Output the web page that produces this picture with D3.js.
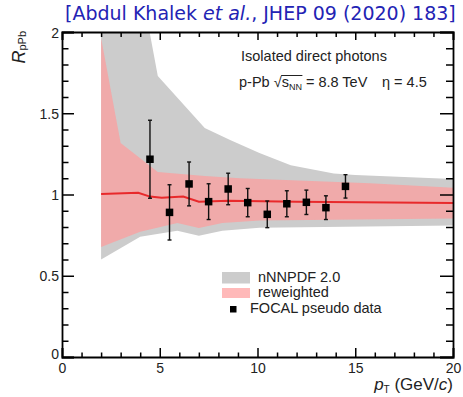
<!DOCTYPE html>
<html>
<head>
<meta charset="utf-8">
<script src="https://cdn.jsdelivr.net/npm/d3@7"></script>
<style>
  body { margin: 0; background: #fff; }
  svg { display: block; font-family: "Liberation Sans", Arial, Helvetica, sans-serif; }
</style>
</head>
<body>
<svg id="chart" width="463" height="397"></svg>
<script>
// nNNPDF 2.0 band (grey), upper and lower edges
var nnpdfHiX = [2, 4.9, 7.3, 8.6, 10.1, 11.7, 13.9, 15, 20];
var nnpdfHiY = [3.6, 1.73, 1.41, 1.335, 1.255, 1.18, 1.13, 1.12, 1.095];
var nnpdfLoX = [2, 4.0, 5.9, 7.0, 8.2, 10.1, 20];
var nnpdfLoY = [0.60, 0.74, 0.777, 0.746, 0.777, 0.795, 0.81];

// reweighted band (pink) and central line (red)
var rwHiX = [2, 3.0, 4.9, 7.3, 9.1, 15.75, 20];
var rwHiY = [1.963, 1.317, 1.138, 1.114, 1.10, 1.07, 1.042];
var rwLoX = [2, 4.0, 5.9, 7.0, 8.2, 10.1, 20];
var rwLoY = [0.677, 0.771, 0.825, 0.794, 0.825, 0.84, 0.852];
var rwMidX = [2, 3.9, 4.5, 5.1, 6.2, 7.0, 8.5, 12, 20];
var rwMidY = [1.003, 1.011, 0.987, 0.98, 0.987, 0.956, 0.962, 0.955, 0.948];

// FOCAL pseudo data
var focalPt = [4.5, 5.5, 6.5, 7.5, 8.5, 9.5, 10.5, 11.5, 12.5, 13.5, 14.5];
var focalR = [1.217, 0.890, 1.065, 0.956, 1.034, 0.950, 0.878, 0.943, 0.952, 0.919, 1.050];
var focalErr = [0.24, 0.17, 0.135, 0.11, 0.097, 0.087, 0.082, 0.08, 0.075, 0.073, 0.072];

var xMajor = [0, 5, 10, 15, 20];
var yMajor = [0, 0.5, 1, 1.5, 2];

var svg = d3.select("#chart");
var pL = 62, pR = 453, pT = 32, pB = 357;

var x = d3.scaleLinear().domain([0, 20]).range([pL, pR]);
var y = d3.scaleLinear().domain([0, 2]).range([pB, pT]);

svg.append("defs").append("clipPath").attr("id", "frame")
  .append("rect").attr("x", pL).attr("y", pT)
  .attr("width", pR - pL).attr("height", pB - pT);

function pts(xs, ys) { return xs.map(function (v, i) { return [v, ys[i]]; }); }
function band(hx, hy, lx, ly) {
  return pts(hx, hy).concat(pts(lx, ly).reverse());
}
var line = d3.line().x(function (d) { return x(d[0]); }).y(function (d) { return y(d[1]); });

var plot = svg.append("g").attr("clip-path", "url(#frame)");

plot.append("path")
  .attr("d", line(band(nnpdfHiX, nnpdfHiY, nnpdfLoX, nnpdfLoY)) + "Z")
  .attr("fill", "#cccccc");

plot.append("path")
  .attr("d", line(band(rwHiX, rwHiY, rwLoX, rwLoY)) + "Z")
  .attr("fill", "#ff9b9b").attr("fill-opacity", 0.7);

plot.append("path")
  .attr("d", line(pts(rwMidX, rwMidY)))
  .attr("fill", "none").attr("stroke", "#e8292b").attr("stroke-width", 2);

// error bars
var pd = focalPt.map(function (v, i) { return { x: v, y: focalR[i], e: focalErr[i] }; });
var bars = plot.append("g").attr("stroke", "#111").attr("stroke-width", 1.4);
bars.selectAll(".eb").data(pd).enter().append("line")
  .attr("x1", function (d) { return x(d.x); }).attr("x2", function (d) { return x(d.x); })
  .attr("y1", function (d) { return y(d.y - d.e); }).attr("y2", function (d) { return y(d.y + d.e); });
bars.selectAll(".capHi").data(pd).enter().append("line")
  .attr("x1", function (d) { return x(d.x) - 2; }).attr("x2", function (d) { return x(d.x) + 2; })
  .attr("y1", function (d) { return y(d.y + d.e); }).attr("y2", function (d) { return y(d.y + d.e); });
bars.selectAll(".capLo").data(pd).enter().append("line")
  .attr("x1", function (d) { return x(d.x) - 2; }).attr("x2", function (d) { return x(d.x) + 2; })
  .attr("y1", function (d) { return y(d.y - d.e); }).attr("y2", function (d) { return y(d.y - d.e); });
plot.selectAll(".mk").data(pd).enter().append("rect")
  .attr("x", function (d) { return x(d.x) - 3.75; })
  .attr("y", function (d) { return y(d.y) - 3.75; })
  .attr("width", 7.5).attr("height", 7.5).attr("fill", "#000");

// axes (ticks point inward)
function minorOf(scale, step, majors) {
  var out = [];
  var d = scale.domain();
  for (var v = d[0]; v <= d[1] + 1e-9; v += step) {
    var r = Math.round(v * 10) / 10;
    if (majors.indexOf(r) < 0) out.push(r);
  }
  return out;
}
var xMinor = minorOf(x, 1, xMajor);
var yMinor = minorOf(y, 0.1, yMajor);

function axis(gen, tx, ty, majors, minors, majLen, minLen, labels, pad) {
  var g = svg.append("g").attr("transform", "translate(" + tx + "," + ty + ")");
  g.call(gen.tickValues(majors).tickSize(-majLen).tickPadding(pad)
    .tickFormat(labels ? d3.format("") : ""));
  var m = svg.append("g").attr("transform", "translate(" + tx + "," + ty + ")");
  m.call(gen.tickValues(minors).tickSize(-minLen).tickFormat(""));
  m.select(".domain").remove();
  [g, m].forEach(function (s) {
    s.selectAll("line").attr("stroke", "#000").attr("stroke-width", 1.5);
    s.select(".domain").attr("stroke", "#000").attr("stroke-width", 1.8);
  });
  g.selectAll("text").attr("font-size", 14).attr("fill", "#222")
    .attr("font-family", "Liberation Sans, Arial, sans-serif");
  return g;
}
axis(d3.axisBottom(x).tickSizeOuter(0), 0, pB, xMajor, xMinor, 9, 4.5, true, 6);
axis(d3.axisTop(x).tickSizeOuter(0), 0, pT, xMajor, xMinor, 8, 5, false, 3);
axis(d3.axisRight(y).tickSizeOuter(0), pR, 0, yMajor, yMinor, 13, 7, false, 3);
var yl = axis(d3.axisLeft(y).tickSizeOuter(0), pL, 0, yMajor, yMinor, 12, 6.5, true, 3);
yl.selectAll("text").attr("dy", "0.36em");
// the two zero labels sit a little apart, like ROOT draws them
yl.selectAll(".tick").filter(function (d) { return d === 0; }).select("text").attr("dy", "0.1em").attr("x", -3);

// axis titles
var xt = svg.append("text").attr("x", pR).attr("y", 390)
  .attr("text-anchor", "end").attr("font-size", 17).attr("fill", "#222");
xt.append("tspan").attr("font-style", "italic").text("p");
xt.append("tspan").attr("font-size", 10).attr("dy", 3).text("T");
xt.append("tspan").attr("dy", -3).text(" (GeV/");
xt.append("tspan").attr("font-style", "italic").text("c");
xt.append("tspan").text(")");

var yt = svg.append("text").attr("transform", "translate(25," + (pT - 1) + ") rotate(-90)")
  .attr("text-anchor", "end").attr("font-size", 18).attr("fill", "#222");
yt.append("tspan").attr("font-style", "italic").text("R");
yt.append("tspan").attr("font-size", 11).attr("dy", 1).text("pPb");

// title reference
var title = svg.append("text").attr("x", 65).attr("y", 20)
  .attr("font-size", 19).attr("fill", "#2323b4")
  .attr("font-family", "DejaVu Sans, sans-serif");
title.append("tspan").text("[Abdul Khalek ");
title.append("tspan").attr("font-style", "italic").text("et al.");
title.append("tspan").text(", JHEP 09 (2020) 183]");

// labels in the frame
svg.append("text").attr("x", 241).attr("y", 61).attr("font-size", 14.5)
  .attr("fill", "#222").text("Isolated direct photons");

var sys = svg.append("text").attr("x", 239).attr("y", 87).attr("font-size", 14.5).attr("fill", "#222");
sys.append("tspan").text("p-Pb ");
sys.append("tspan").text("\u221A");
sys.append("tspan").text("s");
sys.append("tspan").attr("font-size", 9).attr("dy", 3).text("NN");
sys.append("tspan").attr("dy", -3).text(" = 8.8 TeV");
sys.append("tspan").attr("x", 382).text("\u03B7 = 4.5");
var node = sys.node();
var root = node.getExtentOfChar(5), nn = node.getExtentOfChar(8);
svg.append("line").attr("x1", root.x + root.width - 0.5).attr("x2", nn.x + nn.width + 0.5)
  .attr("y1", root.y + 1.5).attr("y2", root.y + 1.5)
  .attr("stroke", "#222").attr("stroke-width", 1);

// legend
var leg = svg.append("g");
leg.append("rect").attr("x", 222).attr("y", 272).attr("width", 28).attr("height", 11.5).attr("fill", "#cccccc");
leg.append("rect").attr("x", 222).attr("y", 288).attr("width", 28).attr("height", 10)
  .attr("fill", "#ff9b9b").attr("fill-opacity", 0.7);
leg.append("rect").attr("x", 230).attr("y", 306).attr("width", 6.5).attr("height", 6.5).attr("fill", "#000");
leg.append("text").attr("x", 258).attr("y", 282).attr("font-size", 14.5).attr("fill", "#222").text("nNNPDF 2.0");
leg.append("text").attr("x", 258).attr("y", 297).attr("font-size", 14.5).attr("fill", "#222").text("reweighted");
leg.append("text").attr("x", 250).attr("y", 313).attr("font-size", 14.5).attr("fill", "#222").text("FOCAL pseudo data");
</script>
</body>
</html>
